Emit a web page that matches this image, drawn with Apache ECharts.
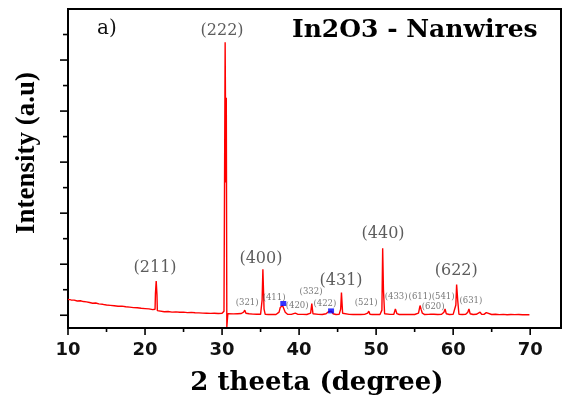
<!DOCTYPE html>
<html>
<head>
<meta charset="utf-8">
<script src="https://cdn.jsdelivr.net/npm/echarts@6/dist/echarts.min.js"></script>
<style>
  html, body { margin: 0; padding: 0; background: #fff; }
  #chart { width: 569px; height: 400px; }
</style>
</head>
<body>
<div id="chart"></div>
<script>
// XRD pattern of In2O3 nanowires: diffraction angle (2θ, degrees) and counts (a.u.)
const twoTheta = [
  10.0, 10.4, 10.8, 11.2, 11.6, 12.0, 12.4, 12.8, 13.2, 13.6, 14.0, 14.5, 15.0, 15.5,
  16.0, 16.5, 17.0, 17.5, 18.0, 18.5, 19.0, 19.5, 20.0, 20.5, 21.0, 21.3, 21.35, 21.45,
  21.55, 21.6, 21.8, 22.5, 23.0, 23.5, 24.0, 24.5, 25.0, 25.5, 26.0, 26.5, 27.0, 27.5,
  28.0, 28.5, 29.0, 29.5, 30.0, 30.25, 30.4, 30.5, 30.55, 30.62, 30.75, 31.0, 31.5, 32.0,
  32.5, 32.8, 32.95, 33.1, 33.5, 34.0, 34.5, 35.0, 35.2, 35.3, 35.45, 35.6, 36.0, 36.5,
  37.0, 37.4, 37.55, 37.7, 37.85, 38.0, 38.2, 38.5, 39.0, 39.5, 39.65, 39.8, 40.0, 40.5,
  41.0, 41.5, 41.65, 41.8, 42.0, 42.5, 43.0, 43.5, 43.8, 44.0, 44.2, 44.4, 44.8, 45.2,
  45.4, 45.5, 45.65, 45.8, 46.5, 47.0, 47.5, 48.0, 48.5, 48.9, 49.05, 49.2, 49.5, 50.0,
  50.5, 50.75, 50.85, 50.95, 51.1, 51.3, 51.8, 52.3, 52.5, 52.7, 53.0, 53.5, 54.0, 54.5,
  55.0, 55.5, 55.7, 55.85, 56.0, 56.3, 56.8, 57.1, 57.3, 57.5, 58.0, 58.5, 58.8, 58.95,
  59.1, 59.5, 60.0, 60.35, 60.45, 60.6, 60.75, 61.2, 61.6, 61.9, 62.05, 62.2, 62.6, 63.0,
  63.5, 63.7, 64.0, 64.3, 64.5, 65.0, 65.5, 66.0, 66.5, 67.0, 67.5, 68.0, 68.5, 69.0,
  69.5, 69.9
];
const counts = [
  310, 300, 296, 280, 284, 268, 262, 250, 236, 240, 222, 214, 200, 194,
  186, 176, 178, 166, 158, 150, 146, 136, 130, 124, 110, 118, 420, 668,
  400, 90, 70, 68, 74, 62, 66, 58, 60, 52, 56, 48, 46, 42,
  40, 36, 38, 34, 40, 80, 5350, 2600, 4260, -230, 30, 28, 26, 30,
  34, 60, 100, 40, 28, 22, 20, 18, 300, 900, 120, 16, 14, 16,
  14, 60, 150, 120, 190, 160, 60, 20, 16, 40, 70, 20, 14, 16,
  14, 40, 230, 30, 14, 16, 14, 30, 70, 90, 80, 30, 14, 16,
  120, 446, 40, 14, 16, 14, 16, 14, 16, 40, 80, 20, 14, 16,
  14, 100, 1310, 500, 30, 14, 16, 20, 125, 30, 14, 16, 14, 16,
  14, 40, 190, 110, 40, 14, 16, 20, 40, 18, 14, 20, 60, 125,
  30, 14, 16, 200, 603, 280, 20, 14, 16, 60, 125, 30, 14, 18,
  59, 18, 16, 51, 16, 14, 20, 12, 16, 10, 14, 12, 14, 10,
  12, 10
];

// Miller indices of the reflections and where their tags sit (2θ, counts)
const majorHkl = ['(222)', '(211)', '(400)', '(440)', '(431)', '(622)'];
const majorHklAt = [[30.0, 5573], [21.3, 929], [35.05, 1106], [50.9, 1598], [45.45, 674], [60.4, 870]];
const minorHkl = ['(321)', '(411)', '(420)', '(332)', '(422)', '(521)', '(433)', '(611)', '(541)', '(620)', '(631)'];
const minorHklAt = [[33.25, 242], [36.75, 340], [39.75, 183], [41.55, 458], [43.35, 222], [48.7, 242],
                    [52.6, 360], [55.7, 360], [58.7, 360], [57.4, 163], [62.3, 281]];

// Secondary-phase reflections flagged with blue markers
const impurityPeaks = [[37.95, 230], [44.15, 85]];

// Axis ticks
const xMajorTicks = [10, 20, 30, 40, 50, 60, 70];
const xMinorTicks = [15, 25, 35, 45, 55, 65];
const yMajorTicks = [0, 1000, 2000, 3000, 4000, 5000];
const yMinorTicks = [500, 1500, 2500, 3500, 4500, 5500];

const X_MIN = 10, X_MAX = 74, Y_MIN = -250, Y_MAX = 6000;

const chart = echarts.init(document.getElementById('chart'));

// Tick marks drawn outside the frame, placed through the axis scales
function tickSeries(values, horizontal, len) {
  return {
    type: 'custom',
    silent: true,
    clip: false,
    z: 6,
    data: values.map(v => (horizontal ? [v, Y_MIN] : [X_MIN, v])),
    renderItem: (params, api) => {
      const p = api.coord([api.value(0), api.value(1)]);
      const shape = horizontal
        ? { x1: p[0], y1: p[1], x2: p[0], y2: p[1] + len }
        : { x1: p[0], y1: p[1], x2: p[0] - len, y2: p[1] };
      return { type: 'line', shape, style: { stroke: '#000', lineWidth: 1.6 } };
    }
  };
}

chart.setOption({
  animation: false,
  grid: {
    left: 68, right: 8, top: 9, bottom: 72,
    show: true, borderColor: '#000', borderWidth: 2
  },
  xAxis: {
    type: 'value', min: X_MIN, max: X_MAX, interval: 10, position: 'bottom',
    splitLine: { show: false },
    axisLine: { show: true, onZero: false, lineStyle: { color: '#000', width: 2 } },
    axisTick: { show: false },
    axisLabel: {
      show: true, margin: 13, showMaxLabel: false,
      color: '#111', fontFamily: 'DejaVu Sans', fontWeight: 'bold', fontSize: 18
    }
  },
  yAxis: {
    type: 'value', min: Y_MIN, max: Y_MAX, position: 'left',
    splitLine: { show: false },
    axisLine: { show: true, onZero: false, lineStyle: { color: '#000', width: 2 } },
    axisTick: { show: false },
    axisLabel: { show: false }
  },
  series: [
    {
      type: 'line',
      data: twoTheta.map((t, i) => [t, counts[i]]),
      showSymbol: false,
      symbol: 'none',
      lineStyle: { color: '#ff0000', width: 1.4 },
      z: 3
    },
    {
      type: 'scatter',
      data: impurityPeaks,
      symbol: 'rect',
      symbolSize: [6, 5],
      itemStyle: { color: '#0000ff' },
      z: 4
    },
    {
      type: 'scatter',
      data: majorHkl.map((h, i) => ({ name: h, value: majorHklAt[i] })),
      symbolSize: 0,
      label: {
        show: true, position: 'inside', formatter: '{b}',
        fontFamily: 'DejaVu Serif', fontSize: 16, color: '#333'
      },
      z: 5
    },
    {
      type: 'scatter',
      data: minorHkl.map((h, i) => ({ name: h, value: minorHklAt[i] })),
      symbolSize: 0,
      label: {
        show: true, position: 'inside', formatter: '{b}',
        fontFamily: 'DejaVu Serif', fontSize: 8.5, color: '#555'
      },
      z: 5
    },
    tickSeries(xMajorTicks, true, 7),
    tickSeries(xMinorTicks, true, 4),
    tickSeries(yMajorTicks, false, 8),
    tickSeries(yMinorTicks, false, 5)
  ],
  graphic: [
    {
      type: 'text', left: 97, top: 19,
      style: { text: 'a)', font: '20px "DejaVu Serif"', fill: '#111' }
    },
    {
      type: 'text', left: 292, top: 18,
      style: { text: 'In2O3 - Nanwires', font: 'bold 25px "DejaVu Serif"', fill: '#000' }
    },
    {
      type: 'text', x: 27, y: 153, rotation: Math.PI / 2,
      style: {
        text: 'Intensity (a.u)', font: 'bold 27px "Liberation Serif"', fill: '#000',
        align: 'center', verticalAlign: 'middle'
      }
    },
    {
      type: 'text', x: 317, y: 383,
      style: {
        text: '2 theeta (degree)', font: 'bold 26px "DejaVu Serif"', fill: '#000',
        align: 'center', verticalAlign: 'middle'
      }
    }
  ]
});
</script>
</body>
</html>
